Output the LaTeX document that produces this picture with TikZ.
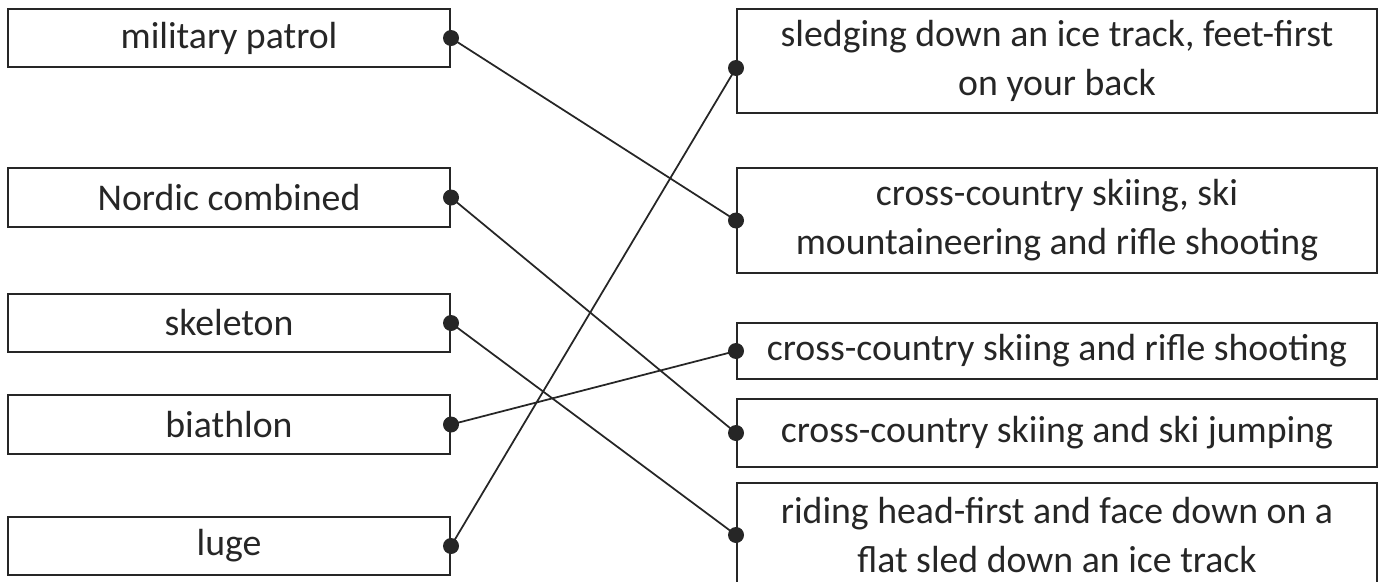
\documentclass[tikz,border=0pt]{standalone}
\usepackage{fontspec}
\setmainfont{Carlito}
\usetikzlibrary{positioning}
\definecolor{ink}{HTML}{262626}

\begin{document}
\begin{tikzpicture}[x=0.02cm, y=-0.02cm,
  box/.style={draw=ink, line width=1.2pt, text=ink, align=center, inner sep=0pt,
    font=\fontsize{21.5}{27.8}\selectfont},
  leftbox/.style={box, minimum width=8.84cm, minimum height=1.16cm},
  rightbox/.style={box, minimum width=12.8cm},
  link/.style={draw=ink, line width=1pt},
  pin/.style={fill=ink}]
\useasboundingbox (0,0) rectangle (1384,582);

\node [leftbox] (patrol) at (229,38) {military patrol};
\node [leftbox, minimum height=1.18cm] (nordic) at (229,197.5) {Nordic combined};
\node [leftbox] (skeleton) at (229,323) {skeleton};
\node [leftbox, minimum height=1.18cm] (biathlon) at (229,424.5) {biathlon};
\node [leftbox] (luge) at (229,546) {luge};

\node [rightbox, minimum height=2.08cm] (sledging) at (1057,61) {sledging down an ice track, feet-first\\on your back};
\node [rightbox, minimum height=2.1cm] (mountain) at (1057,220.5) {cross-country skiing, ski\\mountaineering and rifle shooting};
\node [rightbox, minimum height=1.12cm] (rifle) at (1057,351) {cross-country skiing and rifle shooting};
\node [rightbox, minimum height=1.36cm] (jumping) at (1057,433) {cross-country skiing and ski jumping};
\node [rightbox, minimum height=2.08cm] (headfirst) at (1057,535) {riding head-first and face down on a\\flat sled down an ice track};

\coordinate (sledging-pin) at ([yshift=-0.14cm]sledging.west);

\draw [link] (patrol.east) -- (mountain.west);
\draw [link] (nordic.east) -- (jumping.west);
\draw [link] (skeleton.east) -- (headfirst.west);
\draw [link] (biathlon.east) -- (rifle.west);
\draw [link] (luge.east) -- (sledging-pin);

\foreach \p in {patrol.east, nordic.east, skeleton.east, biathlon.east, luge.east,
  sledging-pin, mountain.west, rifle.west, jumping.west, headfirst.west}
  \fill [pin] (\p) circle (0.16cm);
\end{tikzpicture}
\end{document}
